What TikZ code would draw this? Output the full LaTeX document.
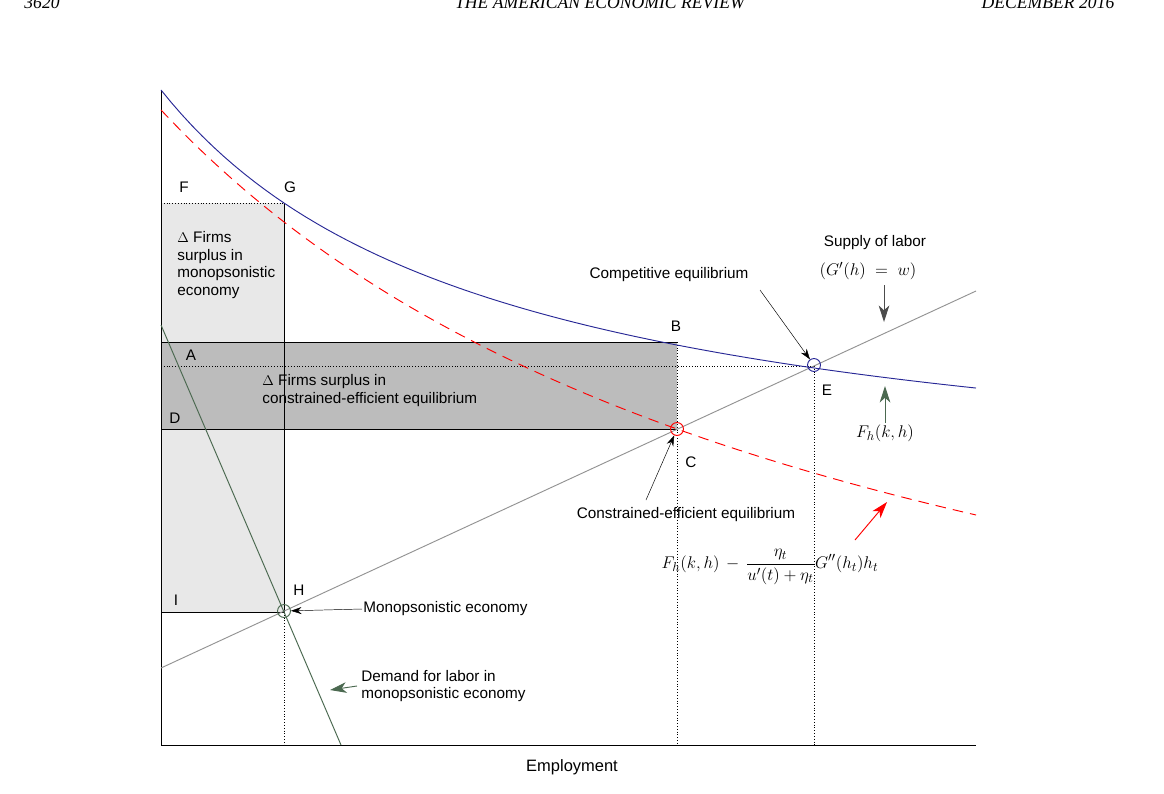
\documentclass[tikz,border=0pt]{standalone}
\usepackage{fontspec}
\setsansfont{Liberation Sans}
\setmainfont{Liberation Serif}
\usetikzlibrary{arrows.meta,positioning}
\definecolor{navyblue}{RGB}{40,40,150}
\definecolor{darkgreen}{RGB}{75,105,80}
\definecolor{lightgray}{RGB}{232,232,232}
\definecolor{midgray}{RGB}{188,188,188}
\tikzset{
  lbl/.style={font=\sffamily\fontsize{13}{15}\selectfont,inner sep=1pt},
  hdr/.style={font=\rmfamily\itshape\fontsize{15}{17}\selectfont},
  ptr/.style={-{Stealth[length=9pt,width=6pt]},thin},
  bigptr/.style={-{Stealth[length=14pt,width=9pt,inset=4pt]},thick},
  eqpt/.style={circle,draw,thick,minimum size=11pt,inner sep=0pt},
  guide/.style={dotted,thin}
}
\begin{document}
\begin{tikzpicture}[x=0.85pt,y=-0.85pt]
  \useasboundingbox (0,0) rectangle (1164,793);
  % header
  \node[hdr] (page) at (42,3) {3620};
  \node[hdr] (journal) at (600,3) {THE AMERICAN ECONOMIC REVIEW};
  \node[hdr] (month) at (1048,3) {DECEMBER 2016};
  % shaded areas
  \fill[lightgray] (161,203) rectangle (284,612);
  \fill[midgray] (161,342) rectangle (677,429);
  \draw[thin] (161,342) -- (677,342);
  \draw[thin] (161,429) -- (677,429);
  \draw[thin] (161,612) -- (284,612);
  \draw[thin] (284,203) -- (284,612);
  \draw[guide] (161,203) -- (284,203);
  \draw[guide] (677,342) -- (677,745);
  \draw[guide] (161,366) -- (814,366);
  \draw[guide] (284,612) -- (284,745);
  \draw[guide] (814,366) -- (814,745);
  % axes
  \draw[thin] (161,90) -- (161,745) -- (976,745);
  % curves
  \draw[gray!85,thick] (161,668) -- (976,291);
  \draw[darkgreen,thick] (161,325) -- (341,745);
  \draw[red,thick,dash pattern=on 9pt off 6pt,domain=161:976,samples=80,variable=\x]
     plot(\x,{867.3-536.94/((\x+548)/1000)});
  \draw[navyblue,thick,domain=161:976,samples=80,variable=\x]
     plot(\x,{510.4-140.667/((\x+173.6)/1000)});
  % equilibrium points
  \node[eqpt,darkgreen] (H) at (284,611) {};
  \node[eqpt,red] (C) at (677,429) {};
  \node[eqpt,navyblue] (E) at (814,365) {};
  % point labels
  \node[lbl] (lF) at (184,187) {F};
  \node[lbl] (lG) at (290,187) {G};
  \node[lbl] (lA) at (191,355) {A};
  \node[lbl] (lB) at (676,326) {B};
  \node[lbl] (lD) at (175,418) {D};
  \node[lbl] (lC) at (691,462) {C};
  \node[lbl] (lE) at (827,390) {E};
  \node[lbl] (lI) at (176,600) {I};
  \node[lbl] (lH) at (299,590) {H};
  % area texts
  \node[lbl,anchor=north west,align=left] (mono) at (176,230)
     {$\Delta$ Firms\\surplus in\\monopsonistic\\economy};
  \node[lbl,anchor=north west,align=left] (cons) at (261,373)
     {$\Delta$ Firms surplus in\\constrained-efficient equilibrium};
  % annotations
  \node[lbl] (comp) at (669,275) {Competitive equilibrium};
  \draw[ptr] (760,290) -- (E);
  \node[lbl] (supply) at (875,243) {Supply of labor};
  \node[lbl,font=\fontsize{15}{17}\selectfont] (supeq) at (868,271) {$(G'(h)\;=\;w)$};
  \coordinate (supfoot) at (884,322);
  \draw[bigptr,gray!60!black] (884,285) -- (supfoot);
  \node[lbl,font=\fontsize{15}{17}\selectfont] (Fh) at (885,433) {$F_h(k,h)$};
  \coordinate (blueend) at (885,386);
  \draw[bigptr,darkgreen] (Fh.north) -- (blueend);
  \node[lbl] (ceq) at (686,515) {Constrained-efficient equilibrium};
  \draw[ptr] (646,500) -- (C);
  \node[lbl,font=\fontsize{15}{17}\selectfont] (formula) at (770,567)
     {$\displaystyle F_h(k,h)\,-\,\frac{\eta_t}{u'(t)+\eta_t}G''(h_t)h_t$};
  \coordinate (redend) at (887,502);
  \draw[bigptr,red] (855,540) -- (redend);
  \node[lbl,anchor=west] (monoeq) at (362,609) {Monopsonistic economy};
  \draw[ptr] (monoeq.west) -- (H);
  \node[lbl,anchor=west,align=left] (demand) at (360,686)
     {Demand for labor in\\monopsonistic economy};
  \coordinate (greenend) at (330,690);
  \draw[bigptr,darkgreen] (357,686) -- (greenend);
  \node[lbl,font=\sffamily\fontsize{14}{16}\selectfont] (xlab) at (572,767) {Employment};
\end{tikzpicture}
\end{document}
